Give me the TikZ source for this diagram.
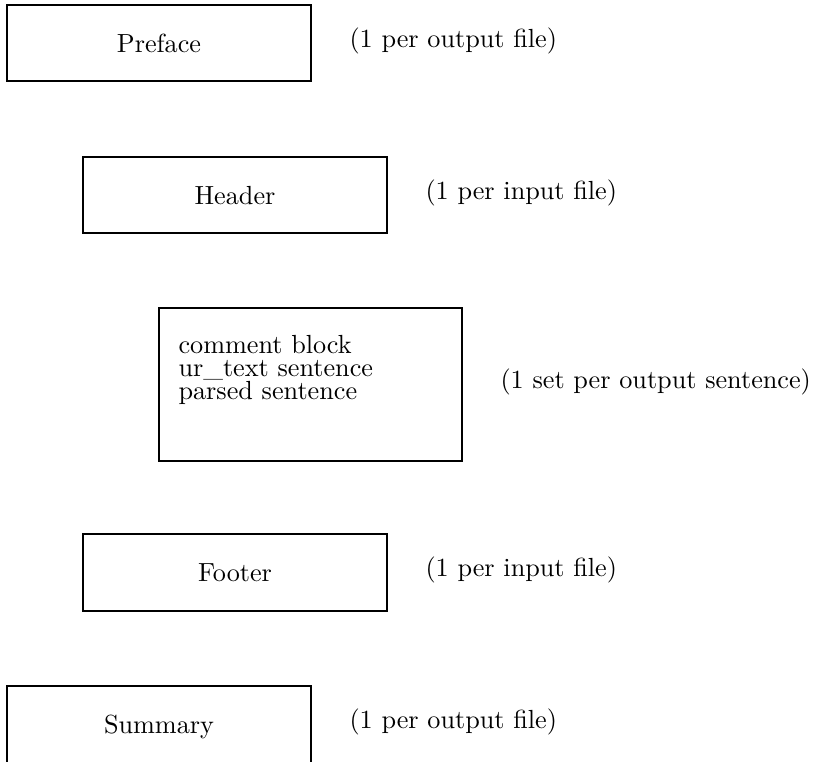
\documentclass[tikz,border=0pt]{standalone}
\begin{document}
\begin{tikzpicture}[x=0.3817pt,y=-0.3817pt,
  box/.style={draw, line width=0.8pt, inner sep=0pt, text height=7.2pt, text depth=0pt,
              minimum width=116pt, minimum height=29pt},
  lbl/.style={anchor=base west, inner sep=0pt},
  line/.style={anchor=base west, inner sep=0pt}]
\useasboundingbox (0,0) rectangle (814,761);
% boxes
\node[box] (preface) at (159,43) {Preface};
\node[box] (header) at (235,195) {Header};
\node[box, minimum width=115.7pt, minimum height=58.4pt] (body) at (310.5,384.5) {};
\node[box, minimum height=29.4pt] (footer) at (235,572.5) {Footer};
\node[box, minimum height=29.4pt] (summary) at (159,724.5) {Summary};
% body lines
\node[line] (l1) at (178,353) {comment block};
\node[line] (l2) at (178,376) {ur\_text sentence};
\node[line] (l3) at (178,399) {parsed sentence};
% labels
\node[lbl] (lp) at (349,47) {(1 per output file)};
\node[lbl] (lh) at (425,199) {(1 per input file)};
\node[lbl] (lb) at (500,388.5) {(1 set per output sentence)};
\node[lbl] (lf) at (425,576) {(1 per input file)};
\node[lbl] (ls) at (349,728) {(1 per output file)};
\end{tikzpicture}
\end{document}
